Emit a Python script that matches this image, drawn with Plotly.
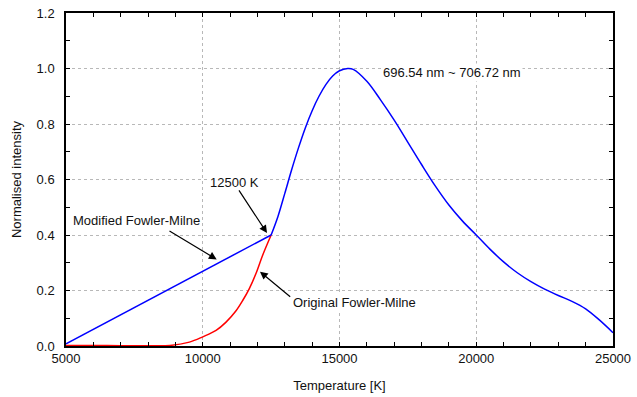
import plotly.graph_objects as go

# Modified Fowler-Milne (blue): linear part then measured curve
mod_lin_T = [5000, 12500]
mod_lin_I = [0.008, 0.40]
mod_T = [12500, 12750, 13000, 13250, 13500, 13750, 14000, 14250, 14500, 14750, 15000,
         15300, 15500, 16000, 16500, 17000, 17500, 18000, 18500, 19000, 19500, 20000,
         20500, 21000, 21500, 22000, 22500, 23000, 23500, 24000, 24500, 25000]
mod_I = [0.400, 0.467, 0.550, 0.635, 0.714, 0.786, 0.848, 0.900, 0.942, 0.973, 0.992,
         1.000, 0.997, 0.954, 0.887, 0.814, 0.734, 0.654, 0.577, 0.508, 0.450, 0.400,
         0.349, 0.303, 0.264, 0.232, 0.205, 0.182, 0.161, 0.134, 0.094, 0.048]

# Original Fowler-Milne (red)
orig_T = [5000, 6000, 7000, 8000, 8800, 9513, 10000, 10487, 10852, 11217, 11460, 11703,
          11946, 12190, 12500]
orig_I = [0.002, 0.002, 0.001, 0.001, 0.002, 0.014, 0.033, 0.056, 0.086, 0.127, 0.164,
          0.207, 0.261, 0.327, 0.40]

x_ticks = [5000, 10000, 15000, 20000, 25000]
y_ticks = [0.0, 0.2, 0.4, 0.6, 0.8, 1.0, 1.2]

FONT = "Liberation Sans, Arial, sans-serif"
TXT = "#111111"

fig = go.Figure()
fig.add_trace(go.Scatter(x=orig_T, y=orig_I, mode="lines",
                         line=dict(color="#ff0000", width=1.5, shape="spline", smoothing=1.0),
                         showlegend=False))
fig.add_trace(go.Scatter(x=mod_lin_T, y=mod_lin_I, mode="lines",
                         line=dict(color="#0000ff", width=1.5), showlegend=False))
fig.add_trace(go.Scatter(x=mod_T, y=mod_I, mode="lines",
                         line=dict(color="#0000ff", width=1.5, shape="spline", smoothing=1.0),
                         showlegend=False))

ann_style = dict(showarrow=False, font=dict(family=FONT, size=13, color=TXT))
fig.add_annotation(x=19095, y=0.984, text="696.54 nm ~ 706.72 nm", bgcolor="white", **ann_style)
fig.add_annotation(x=11143, y=0.588, text="12500 K", bgcolor="white", **ann_style)
fig.add_annotation(x=7578, y=0.4515, text="Modified Fowler-Milne", bgcolor="white", **ann_style)
fig.add_annotation(x=15548, y=0.155, text="Original Fowler-Milne", bgcolor="white", **ann_style)

arrows = [
    (11289, 0.566, 12349, 0.407),
    (8729, 0.418, 10510, 0.312),
    (13252, 0.173, 12093, 0.268),
]
for ax_, ay_, x_, y_ in arrows:
    fig.add_annotation(x=x_, y=y_, ax=ax_, ay=ay_, axref="x", ayref="y", xref="x", yref="y",
                       text="", showarrow=True, arrowhead=2, arrowsize=1.3, arrowwidth=1.2,
                       arrowcolor="black", standoff=0, startstandoff=0)

axis_common = dict(
    showline=True, linecolor="black", linewidth=1.5, mirror="allticks",
    ticks="inside", ticklen=4, tickwidth=1, tickcolor="black",
    showgrid=True, gridcolor="#b8b8b8", griddash="dot", gridwidth=1,
    zeroline=False, automargin=False, ticklabeloverflow="allow",
    tickfont=dict(family=FONT, size=13, color=TXT),
)

fig.update_xaxes(range=[5000, 25000], tickvals=x_ticks, ticktext=[str(v) for v in x_ticks],
                 minor=dict(dtick=1000, tick0=5000, ticks="inside", ticklen=4,
                            tickcolor="black", showgrid=False),
                 title=dict(text="Temperature [K]", font=dict(family=FONT, size=13, color=TXT),
                            standoff=16),
                 **axis_common)
fig.update_yaxes(range=[0, 1.2], tickvals=y_ticks, ticktext=[f"{v:.1f}" for v in y_ticks],
                 minor=dict(dtick=0.1, tick0=0, ticks="inside", ticklen=4,
                            tickcolor="black", showgrid=False),
                 title=dict(text="Normalised intensity", font=dict(family=FONT, size=13, color=TXT),
                            standoff=12),
                 ticklabelstandoff=7,
                 **axis_common)

fig.update_layout(
    width=637, height=397,
    margin=dict(l=66, r=24, t=13, b=51),
    plot_bgcolor="white", paper_bgcolor="white",
    font=dict(family=FONT, size=13, color=TXT),
)

# remove the default page margin so the figure fills the 637x397 window exactly
fig.write_html("out.html", config={"displayModeBar": False},
               post_script="document.body.style.margin='0';")
